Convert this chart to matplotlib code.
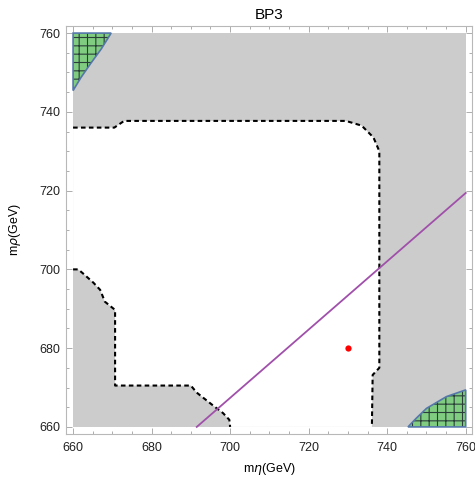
import matplotlib
matplotlib.use("Agg")
import matplotlib.pyplot as plt
from matplotlib.patches import Polygon
import numpy as np

plt.rcParams['font.family'] = ['Liberation Sans', 'DejaVu Sans']
plt.rcParams['hatch.linewidth'] = 0.8

# ---- data ----
x_range = [660, 760]
y_range = [660, 760]
x_ticks = [660, 680, 700, 720, 740, 760]
y_ticks = [660, 680, 700, 720, 740, 760]

# boundary of the allowed (white) region, dashed contour
upper_contour_x = [660, 670.5, 673, 729.5, 733.5, 736.5, 738, 738, 736.3, 736.1]
upper_contour_y = [736, 736, 737.7, 737.7, 736.5, 733.5, 730, 675, 673.2, 660]
lower_contour_x = [660, 661.3, 662.5, 665.2, 666.9, 668.1, 670.7, 670.7, 690, 691.5, 695.7, 698.2, 699.8, 700]
lower_contour_y = [700, 700, 699.0, 696.6, 694.8, 691.8, 689.7, 670.5, 670.5, 668.7, 665.4, 663.5, 661.8, 660]

# green hatched regions
green_tl_x = [660, 660, 662, 664.5, 667.2, 669.7]
green_tl_y = [760, 745.4, 748.7, 752.3, 756.0, 760]
green_br_x = [745.3, 747.4, 750, 755.1, 760, 760]
green_br_y = [660, 662.2, 664.7, 667.7, 669.4, 660]

# purple line
line_x = [691.5, 760]
line_y = [660, 719.4]

# benchmark point
pt_x = [730]
pt_y = [680]

fig = plt.figure(figsize=(4.75, 4.78), dpi=100)
ax = fig.add_axes([66/475, 1-434/478, (472-66)/475, (434-26)/478])

gray = '#cccccc'
# full gray square
ax.add_patch(Polygon([[x_range[0], y_range[0]], [x_range[1], y_range[0]],
                      [x_range[1], y_range[1]], [x_range[0], y_range[1]]],
                     closed=True, facecolor=gray, edgecolor='none', zorder=1))
# white allowed region
wx = list(lower_contour_x[::-1][:1]) + list(upper_contour_x[::-1]) + list(lower_contour_x)
wy = list(lower_contour_y[::-1][:1]) + list(upper_contour_y[::-1]) + list(lower_contour_y)
ax.add_patch(Polygon(np.column_stack([wx, wy]), closed=True, facecolor='white',
                     edgecolor='none', zorder=2))

# dashed contours
for cx, cy in [(upper_contour_x, upper_contour_y), (lower_contour_x, lower_contour_y)]:
    ax.plot(cx, cy, color='black', lw=1.5, dashes=(2.2, 1.6), zorder=4,
            solid_capstyle='butt', dash_capstyle='butt')

# green regions
for gx, gy in [(green_tl_x, green_tl_y), (green_br_x, green_br_y)]:
    pts = np.column_stack([gx, gy])
    ax.add_patch(Polygon(pts, closed=True, facecolor='#80cc80', edgecolor='#2a3f3a',
                         linewidth=0, hatch='++', zorder=3))
    ax.add_patch(Polygon(pts, closed=True, facecolor='none', edgecolor='#5577aa',
                         linewidth=1.2, zorder=3.5))

ax.plot(line_x, line_y, color='#a050aa', lw=1.3, zorder=5)
ax.plot(pt_x, pt_y, 'o', color='#ff0000', ms=4.5, mec='none', zorder=6)

ax.set_xlim(658.2, 761.6)
ax.set_ylim(658.2, 761.8)
ax.set_xticks(x_ticks)
ax.set_yticks(y_ticks)
ax.set_xticks(np.arange(660, 761, 5), minor=True)
ax.set_yticks(np.arange(660, 761, 5), minor=True)
ax.tick_params(which='both', direction='in', top=True, right=True, color='#a0a0a0',
               labelsize=9, labelcolor='#222222', width=0.6)
ax.tick_params(which='major', length=4)
ax.tick_params(which='minor', length=2.5)
ax.tick_params(axis='x', which='major', pad=6)
ax.tick_params(axis='y', which='major', pad=4)
for s in ax.spines.values():
    s.set_color('#b8b8b8')
    s.set_linewidth(0.8)

ax.set_title('BP3', fontsize=11, pad=5)
ax.set_xlabel(r'm$\eta$(GeV)', fontsize=9, labelpad=4.5)
ax.set_ylabel(r'm$\rho$(GeV)', fontsize=9, labelpad=12)

fig.savefig('out.png', dpi=100)
